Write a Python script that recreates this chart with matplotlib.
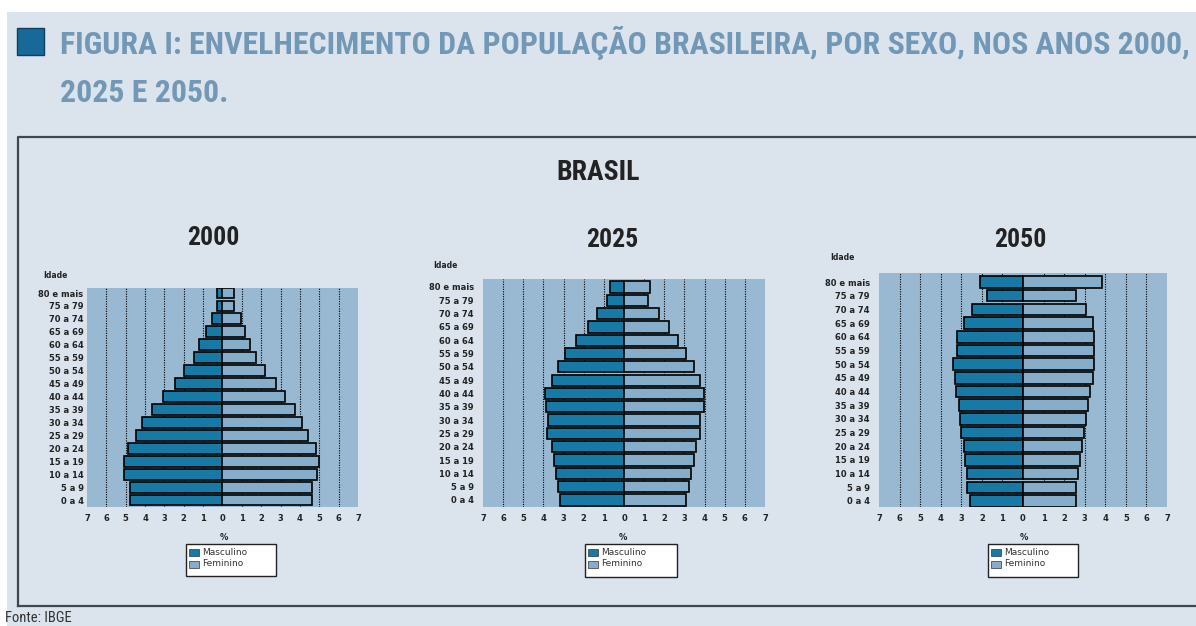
import matplotlib
matplotlib.use("Agg")
import matplotlib.pyplot as plt
from matplotlib.patches import Rectangle
from matplotlib import font_manager
import numpy as np

# ---------------- data ----------------
age_groups = ["0 a 4", "5 a 9", "10 a 14", "15 a 19", "20 a 24", "25 a 29", "30 a 34",
              "35 a 39", "40 a 44", "45 a 49", "50 a 54", "55 a 59", "60 a 64",
              "65 a 69", "70 a 74", "75 a 79", "80 e mais"]
years = ["2000", "2025", "2050"]

# percentages, from youngest (0 a 4) to oldest (80 e mais)
male_2000 = [4.8, 4.8, 5.1, 5.1, 4.9, 4.45, 4.15, 3.65, 3.05, 2.45, 2.0, 1.45, 1.2, 0.85, 0.55, 0.3, 0.28]
female_2000 = [4.64, 4.64, 4.9, 5.0, 4.82, 4.43, 4.12, 3.73, 3.22, 2.75, 2.22, 1.75, 1.44, 1.14, 0.93, 0.6, 0.58]

male_2025 = [3.2, 3.28, 3.37, 3.5, 3.58, 3.83, 3.75, 3.86, 3.9, 3.58, 3.28, 2.92, 2.37, 1.79, 1.34, 0.83, 0.68]
female_2025 = [3.1, 3.23, 3.32, 3.47, 3.55, 3.76, 3.76, 3.96, 3.96, 3.76, 3.47, 3.1, 2.7, 2.24, 1.74, 1.21, 1.31]

male_2050 = [2.6, 2.7, 2.72, 2.8, 2.88, 3.02, 3.08, 3.13, 3.24, 3.32, 3.4, 3.2, 3.2, 2.88, 2.5, 1.75, 2.1]
female_2050 = [2.56, 2.56, 2.66, 2.76, 2.89, 2.97, 3.05, 3.18, 3.26, 3.38, 3.43, 3.46, 3.46, 3.38, 3.05, 2.56, 3.83]

x_ticks = list(range(-7, 8))
x_tick_labels = [str(abs(v)) for v in x_ticks]

title_line1 = "FIGURA I: ENVELHECIMENTO DA POPULAÇÃO BRASILEIRA, POR SEXO, NOS ANOS 2000,"
title_line2 = "2025 E 2050."

# ---------------- style ----------------
W, H = 1196, 626
BG = "#dbe3ec"
PLOT_BG = "#98b9d1"
MALE_C = "#1679a6"
FEMALE_C = "#86aecb"
TITLE_C = "#7298b7"
TXT = "#222222"


def pick_font(cands, stretch="normal"):
    for name in cands:
        try:
            fp = font_manager.FontProperties(family=name, weight="bold", stretch=stretch)
            path = font_manager.findfont(fp, fallback_to_default=False)
            if path:
                return name
        except Exception:
            continue
    return "DejaVu Sans"


narrow_name = pick_font(["Liberation Sans Narrow", "DejaVu Sans Condensed",
                         "Roboto Condensed", "Open Sans Condensed", "Noto Sans Condensed"])
narrow = [narrow_name, "DejaVu Sans"]

fig = plt.figure(figsize=(W / 100, H / 100), dpi=100, facecolor="white")


def frect(x0, y0, x1, y1):
    return [x0 / W, 1 - y1 / H, (x1 - x0) / W, (y1 - y0) / H]


def fx(x):
    return x / W


def fy(y):
    return 1 - y / H


# page background
fig.patches.append(Rectangle((fx(7), 0), 1, fy(12), transform=fig.transFigure,
                             facecolor=BG, edgecolor="none", zorder=-5))
# title icon
fig.patches.append(Rectangle((fx(17), fy(55)), (44 - 17) / W, 27 / H, transform=fig.transFigure,
                             facecolor="#17699a", edgecolor="#0d3f5e", linewidth=1, zorder=1))

t1 = fig.text(fx(60), fy(43), title_line1, fontsize=28, fontweight="bold", color=TITLE_C,
              family=narrow, fontstretch="condensed", va="center", ha="left")
t2 = fig.text(fx(60), fy(93), title_line2, fontsize=28, fontweight="bold", color=TITLE_C,
              family=narrow, fontstretch="condensed", va="center", ha="left")
# fit first line to its width in the reference
fig.canvas.draw()
r = fig.canvas.get_renderer()
w1 = t1.get_window_extent(r).width
fs = min(30, 28 * 1130 / w1)
t1.set_fontsize(fs)
t2.set_fontsize(fs)

# frame box (open on the right)
fig.lines.append(plt.Line2D([fx(18), fx(18), 1.0], [fy(606), fy(137), fy(137)],
                            transform=fig.transFigure, color="#3d4652", linewidth=1.6, zorder=2))
fig.lines.append(plt.Line2D([fx(18), 1.0], [fy(606), fy(606)],
                            transform=fig.transFigure, color="#3d4652", linewidth=1.6, zorder=2))

fig.text(fx(598), fy(172), "BRASIL", fontsize=20, fontweight="bold", color=TXT,
         family=narrow, fontstretch="condensed", ha="center", va="center")

fig.text(fx(5), fy(611), "Fonte: IBGE", fontsize=10.5, color="#333333", ha="left", va="top",
         family=narrow)

panels = [
    dict(year=years[0], male=male_2000, female=female_2000,
         box=(87, 288, 358, 507), ylim=(-0.54, 16.39), ypad=2.5,
         title_xy=(213, 238), idade_xy=(43, 275), pct_xy=(224, 537), leg=(186, 544, 276, 576)),
    dict(year=years[1], male=male_2025, female=female_2025,
         box=(483, 279, 765, 507), ylim=(-0.53, 16.6), ypad=6.5,
         title_xy=(612, 240), idade_xy=(433, 265), pct_xy=(623, 537), leg=(585, 544, 677, 577)),
    dict(year=years[2], male=male_2050, female=female_2050,
         box=(879, 273, 1167, 507), ylim=(-0.44, 16.66), ypad=6.5,
         title_xy=(1020, 240), idade_xy=(830, 258), pct_xy=(1024, 537), leg=(988, 544, 1078, 577)),
]

ypos = np.arange(len(age_groups))

for p in panels:
    ax = fig.add_axes(frect(*p["box"]))
    ax.set_zorder(1)
    ax.set_facecolor(PLOT_BG)
    ax.set_xlim(-7, 7)
    ax.set_ylim(*p["ylim"])
    for v in x_ticks:
        if v not in (-7, 0, 7):
            ax.axvline(v, color="black", linestyle=(0, (1, 1.2)), linewidth=0.8, zorder=1)
    ax.barh(ypos, [-m for m in p["male"]], height=0.84, color=MALE_C, edgecolor="black",
            linewidth=1.2, zorder=2)
    ax.barh(ypos, p["female"], height=0.84, color=FEMALE_C, edgecolor="black",
            linewidth=1.2, zorder=2)
    ax.set_xticks(x_ticks)
    ax.set_xticklabels(x_tick_labels, fontsize=6, fontweight="bold", color=TXT)
    ax.set_yticks(ypos)
    ax.set_yticklabels(age_groups, fontsize=6, fontweight="bold", color=TXT)
    ax.tick_params(axis="x", length=0, pad=5)
    ax.tick_params(axis="y", length=0, pad=p["ypad"])
    for s in ax.spines.values():
        s.set_visible(False)

    fig.text(fx(p["title_xy"][0]), fy(p["title_xy"][1]), p["year"], fontsize=18.5,
             fontweight="bold", color=TXT, family=narrow, fontstretch="condensed",
             ha="center", va="center")
    fig.text(fx(p["idade_xy"][0]), fy(p["idade_xy"][1]), "Idade", fontsize=5.5,
             fontweight="bold", color=TXT, ha="left", va="center")
    fig.text(fx(p["pct_xy"][0]), fy(p["pct_xy"][1]), "%", fontsize=6,
             fontweight="bold", color=TXT, ha="center", va="center")

    lx0, ly0, lx1, ly1 = p["leg"]
    fig.patches.append(Rectangle((fx(lx0), fy(ly1)), (lx1 - lx0) / W, (ly1 - ly0) / H,
                                 transform=fig.transFigure, facecolor="white",
                                 edgecolor="#222222", linewidth=1.0, zorder=3))
    for i, (lab, col) in enumerate([("Masculino", MALE_C), ("Feminino", FEMALE_C)]):
        cy = ly0 + 8.5 + i * 11.5
        fig.patches.append(Rectangle((fx(lx0 + 3), fy(cy + 3.5)), 10 / W, 7 / H,
                                     transform=fig.transFigure, facecolor=col,
                                     edgecolor="#333333", linewidth=0.5, zorder=4))
        fig.text(fx(lx0 + 16), fy(cy), lab, fontsize=6.5, color="#333333",
                 ha="left", va="center", zorder=4)

fig.savefig("out.png", dpi=100, facecolor=fig.get_facecolor())
